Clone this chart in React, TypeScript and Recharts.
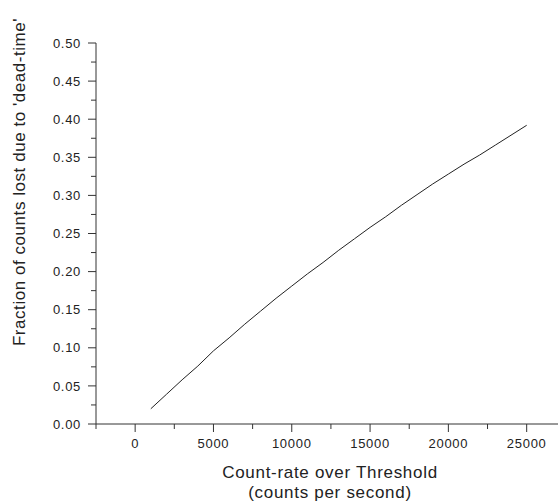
import React from 'react';
import { LineChart, Line, XAxis, YAxis, Label } from 'recharts';

// count rate over threshold (counts per second)
const countRate = [
  1000, 2000, 3000, 4000, 5000, 6000, 7000, 8000, 9000, 10000, 11000, 12000, 13000,
  14000, 15000, 16000, 17000, 18000, 19000, 20000, 21000, 22000, 23000, 24000, 25000,
];
// fraction of counts lost to dead-time
const fractionLost = [
  0.02, 0.039, 0.058, 0.076, 0.096, 0.113, 0.131, 0.148, 0.165, 0.181, 0.197, 0.212, 0.228,
  0.243, 0.258, 0.272, 0.287, 0.301, 0.315, 0.328, 0.341, 0.353, 0.366, 0.379, 0.392,
];

const xMajorTicks = [0, 5000, 10000, 15000, 20000, 25000];
const xMinorTicks = [-2500, 2500, 7500, 12500, 17500, 22500];
const yMajorTicks = [0, 0.05, 0.1, 0.15, 0.2, 0.25, 0.3, 0.35, 0.4, 0.45, 0.5];
const yTickLabels = ['0.00', '0.05', '0.10', '0.15', '0.20', '0.25', '0.30', '0.35', '0.40', '0.45', '0.50'];
const yMinorTicks = [0.025, 0.075, 0.125, 0.175, 0.225, 0.275, 0.325, 0.375, 0.425, 0.475];

const data = countRate.map((rate, i) => ({ rate, fraction: fractionLost[i] }));

const FONT = 'Arial, "Liberation Sans", sans-serif';
const INK = '#222';
const AXIS = '#333';

const XTick = (props: any) => {
  const { x, y, payload } = props;
  const idx = xMajorTicks.indexOf(payload.value);
  if (idx < 0) {
    return <line x1={x} y1={y} x2={x} y2={y + 5} stroke={AXIS} />;
  }
  return (
    <g>
      <line x1={x} y1={y} x2={x} y2={y + 8} stroke={AXIS} />
      <text x={x} y={y + 23.5} textAnchor="middle" fontSize={13} letterSpacing={0.7}
        fontFamily={FONT} fill={INK}>
        {payload.value}
      </text>
    </g>
  );
};

const YTick = (props: any) => {
  const { x, y, payload } = props;
  const idx = yMajorTicks.findIndex(v => Math.abs(v - payload.value) < 1e-9);
  if (idx < 0) {
    return <line x1={x - 5} y1={y} x2={x} y2={y} stroke={AXIS} />;
  }
  return (
    <g>
      <line x1={x - 8} y1={y} x2={x} y2={y} stroke={AXIS} />
      <text x={x - 15} y={y + 4.6} textAnchor="end" fontSize={13} letterSpacing={0.7}
        fontFamily={FONT} fill={INK}>
        {yTickLabels[idx]}
      </text>
    </g>
  );
};

const XTitle = () => (
  <g>
    <text x={330} y={478} textAnchor="middle" fontSize={17} letterSpacing={0.7}
      fontFamily={FONT} fill={INK}>
      Count-rate over Threshold
    </text>
    <text x={330} y={498} textAnchor="middle" fontSize={17} letterSpacing={0.7}
      fontFamily={FONT} fill={INK}>
      (counts per second)
    </text>
  </g>
);

const YTitle = () => (
  <text x={25} y={182} transform="rotate(-90 25 182)" textAnchor="middle" fontSize={17}
    letterSpacing={0.55} fontFamily={FONT} fill={INK}>
    Fraction of counts lost due to 'dead-time'
  </text>
);

const App: React.FC = () => {
  const xTicks = [...xMinorTicks, ...xMajorTicks].sort((a, b) => a - b);
  const yTicks = [...yMinorTicks, ...yMajorTicks].sort((a, b) => a - b);

  return (
    <div style={{ position: 'absolute', left: 0, top: 0, width: 558, height: 504, background: '#fff' }}>
      <LineChart width={558} height={504} data={data}
        margin={{ top: 43, right: 0, bottom: 50, left: 0 }}>
        <XAxis dataKey="rate" type="number" domain={[-2500, 27000]} ticks={xTicks}
          interval={0} tickSize={0} tickMargin={0} height={30} tick={<XTick />}
          axisLine={{ stroke: AXIS }} allowDataOverflow>
          <Label content={<XTitle />} />
        </XAxis>
        <YAxis type="number" domain={[0, 0.5]} ticks={yTicks} interval={0} width={96}
          tickSize={0} tickMargin={0} tick={<YTick />} axisLine={{ stroke: AXIS }}
          allowDataOverflow>
          <Label content={<YTitle />} />
        </YAxis>
        <Line dataKey="fraction" type="linear" stroke={INK} strokeWidth={1} dot={false}
          isAnimationActive={false} />
      </LineChart>
    </div>
  );
};

export default App;
